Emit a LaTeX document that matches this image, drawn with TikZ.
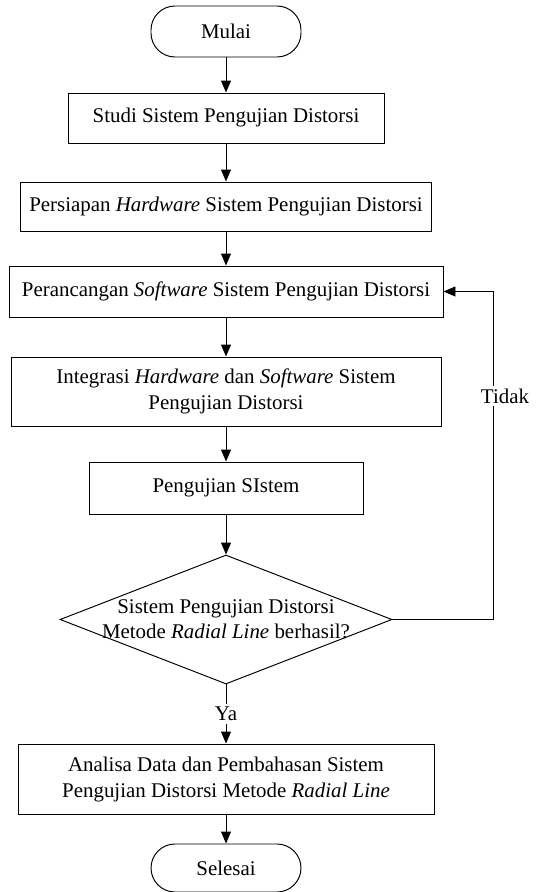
\documentclass[tikz,border=0pt]{standalone}
\usepackage{fontspec}
\setmainfont{Liberation Serif}
\usepackage{tikz}
\usetikzlibrary{shapes,arrows.meta}
\tikzstyle{line} = [draw, -{Triangle[length=2.4mm, width=2mm]}]
\tikzstyle{terminal} = [rectangle, draw, rounded corners=0.48cm, minimum width=3cm, minimum height=1.02cm, text centered, font=\fontsize{11.9}{14.8}\selectfont]
\tikzstyle{proses} = [rectangle, draw, minimum height=1cm, align=center, font=\fontsize{11.9}{14.8}\selectfont]
\tikzstyle{keputusan} = [diamond, draw, minimum width=6.64cm, minimum height=2.58cm, inner sep=0pt]
\tikzstyle{teks} = [align=center, font=\fontsize{11.9}{14.2}\selectfont]
\tikzstyle{ket} = [fill=white, inner sep=1.5pt, font=\fontsize{11.9}{14.8}\selectfont]

\begin{document}
\begin{tikzpicture}[line width=0.55pt]
\useasboundingbox (0,0) rectangle (10.76,-17.84);

\node [terminal] (mulai) at (4.52,-0.63) {Mulai};
\node [proses, below of=mulai, node distance=1.73cm, minimum width=6.32cm] (studi) {Studi Sistem Pengujian Distorsi};
\path [line] (mulai) to (studi);

\node [proses, below of=studi, node distance=1.77cm, minimum width=8.22cm, minimum height=0.98cm] (persiapan) {Persiapan \textit{Hardware} Sistem Pengujian Distorsi};
\path [line] (studi) to (persiapan);

\node [proses, below of=persiapan, node distance=1.70cm, minimum width=8.68cm, minimum height=1.02cm] (perancangan) {Perancangan \textit{Software} Sistem Pengujian Distorsi};
\path [line] (persiapan) to (perancangan);

\node [proses, below of=perancangan, node distance=2.00cm, minimum width=8.6cm, minimum height=1.38cm] (integrasi) {Integrasi \textit{Hardware} dan \textit{Software} Sistem\\Pengujian Distorsi};
\path [line] (perancangan) to (integrasi);

\node [proses, below of=integrasi, node distance=1.93cm, minimum width=5.48cm, minimum height=1.04cm] (pengujian) {Pengujian SIstem};
\path [line] (integrasi) to (pengujian);

\node [keputusan, below of=pengujian, node distance=2.63cm] (keputusan) {};
\node [teks] (keputusanteks) at (keputusan) {Sistem Pengujian Distorsi\\Metode \textit{Radial Line} berhasil?};
\path [line] (pengujian) to (keputusan);

\node [proses, below of=keputusan, node distance=3.19cm, minimum width=8.32cm, minimum height=1.4cm] (analisa) {Analisa Data dan Pembahasan Sistem\\Pengujian Distorsi Metode \textit{Radial Line}};
\path [line] (keputusan) -- node [ket] (ya) {Ya} (analisa);

\node [terminal, below of=analisa, node distance=1.78cm, minimum height=0.96cm] (selesai) {Selesai};
\path [line] (analisa) to (selesai);

% kembali ke perancangan
\path [line] (keputusan.east) -- ++(2.02,0) |- node [ket, pos=0.34, xshift=0.23cm] (tidak) {Tidak} (perancangan.east);

\end{tikzpicture}
\end{document}
